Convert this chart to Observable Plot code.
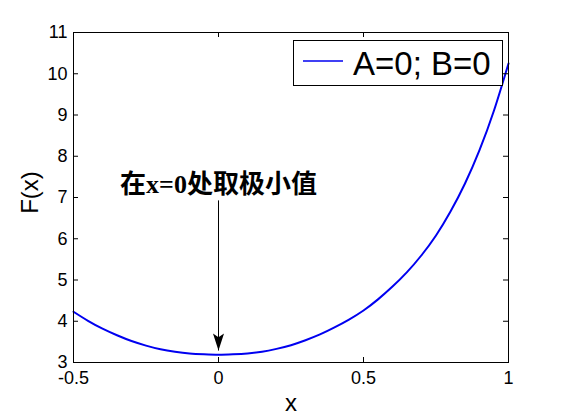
<!DOCTYPE html>
<html>
<head>
<meta charset="utf-8">
<script src="https://cdn.jsdelivr.net/npm/d3@7"></script>
<script src="https://cdn.jsdelivr.net/npm/@observablehq/plot@0.6"></script>
<style>
  html, body { margin: 0; padding: 0; background: #fff; }
  #wrap { position: relative; width: 561px; height: 420px; overflow: hidden; }
  #legend {
    position: absolute; left: 293px; top: 40px; width: 208px; height: 44px;
    border: 1px solid #000; background: #fff; box-sizing: content-box;
    font-family: "Liberation Sans", Arial, sans-serif; font-size: 33px; color: #000;
  }
  #legend svg { position: absolute; left: 0; top: 0; }
  #legend span { position: absolute; left: 59px; top: 5px; line-height: 36px; white-space: nowrap; }
</style>
</head>
<body>
<div id="wrap"></div>
<script>
// Curve F(x) (A=0; B=0)
const xs = [-0.5, -0.45, -0.4, -0.35, -0.3, -0.25, -0.2, -0.15, -0.1, -0.05, 0, 0.05, 0.1, 0.15, 0.2, 0.25, 0.3, 0.35, 0.4, 0.45, 0.5, 0.55, 0.6, 0.65, 0.7, 0.75, 0.8, 0.85, 0.9, 0.95, 1.0];
const fs = [4.23, 4.01, 3.82, 3.66, 3.52, 3.41, 3.32, 3.26, 3.22, 3.20, 3.19, 3.20, 3.22, 3.26, 3.33, 3.42, 3.54, 3.68, 3.85, 4.04, 4.26, 4.53, 4.84, 5.19, 5.60, 6.08, 6.66, 7.34, 8.15, 9.11, 10.25];
const seriesName = "A=0; B=0";
const xTicks = [-0.5, 0, 0.5, 1];
const yTicks = [3, 4, 5, 6, 7, 8, 9, 10, 11];
const xLabel = "x";
const yLabel = "F(x)";
// annotation
const noteText = "在x=0处取极小值";
const noteX = [0];
const noteY = [7.30];
const arrowFrom = [6.93];
const arrowTo = [3.29];

const curve = xs.map((x, i) => ({x, y: fs[i]}));
const note = noteX.map((x, i) => ({x, y: noteY[i], y1: arrowFrom[i], y2: arrowTo[i]}));

const W = 561, H = 420, mL = 73, mR = 53, mT = 32, mB = 58;
const innerW = W - mL - mR, innerH = H - mT - mB;
const tick = 5;
const font = '"Liberation Sans", Arial, sans-serif';
const blue = "#0000f0";

// narrow filled arrowhead, tip at the anchor point
const arrowHead = {
  draw(ctx, size) {
    const r = Math.sqrt(size / Math.PI);
    ctx.moveTo(0, 0);
    ctx.lineTo(-0.65 * r, -2 * r);
    ctx.lineTo(0, -1.55 * r);
    ctx.lineTo(0.65 * r, -2 * r);
    ctx.closePath();
  }
};

const chart = Plot.plot({
  width: W, height: H,
  marginLeft: mL, marginRight: mR, marginTop: mT, marginBottom: mB,
  style: {fontFamily: font, background: "#fff", color: "#000"},
  x: {domain: [-0.5, 1], ticks: xTicks},
  y: {domain: [3, 11], ticks: yTicks},
  marks: [
    Plot.line(curve, {x: "x", y: "y", stroke: blue, strokeWidth: 2, curve: "natural"}),
    // inward ticks on all four sides
    Plot.tickX(xTicks, {x: d => d, insetTop: innerH - tick, stroke: "#000"}),
    Plot.tickX(xTicks, {x: d => d, insetBottom: innerH - tick, stroke: "#000"}),
    Plot.tickY(yTicks, {y: d => d, insetRight: innerW - tick, stroke: "#000"}),
    Plot.tickY(yTicks, {y: d => d, insetLeft: innerW - tick, stroke: "#000"}),
    Plot.frame({stroke: "#000", strokeWidth: 1}),
    Plot.axisX(xTicks, {tickSize: 0, tickPadding: 9, fontSize: 18, label: null, tickFormat: d => String(d)}),
    Plot.axisY(yTicks, {tickSize: 0, tickPadding: 6, fontSize: 18, label: null, tickFormat: d => String(d)}),
    Plot.text([xLabel], {text: d => d, frameAnchor: "bottom", dy: 41, fontSize: 24, lineAnchor: "middle", textAnchor: "middle"}),
    Plot.text([yLabel], {text: d => d, frameAnchor: "left", dx: -43, dy: -5, rotate: -90, fontSize: 24, lineAnchor: "middle", textAnchor: "middle"}),
    // annotation
    Plot.text(note, {x: "x", y: "y", text: () => noteText, fontSize: 26, fontFamily: '"Liberation Serif", "Noto Sans CJK SC", serif', fontWeight: "bold", lineAnchor: "middle", textAnchor: "middle"}),
    Plot.link(note, {x1: "x", x2: "x", y1: "y1", y2: "y2", stroke: "#000", strokeWidth: 1}),
    Plot.dot(note, {x: "x", y: "y2", symbol: arrowHead, r: 8.5, fill: "#000", stroke: "none"})
  ]
});

const wrap = document.getElementById("wrap");
wrap.appendChild(chart);

// legend box inside the axes (upper right)
const legend = document.createElement("div");
legend.id = "legend";
legend.innerHTML = `<svg width="208" height="44"><line x1="9" x2="49" y1="20" y2="20" stroke="${blue}" stroke-width="1.6"/></svg><span>${seriesName}</span>`;
wrap.appendChild(legend);
</script>
</body>
</html>
